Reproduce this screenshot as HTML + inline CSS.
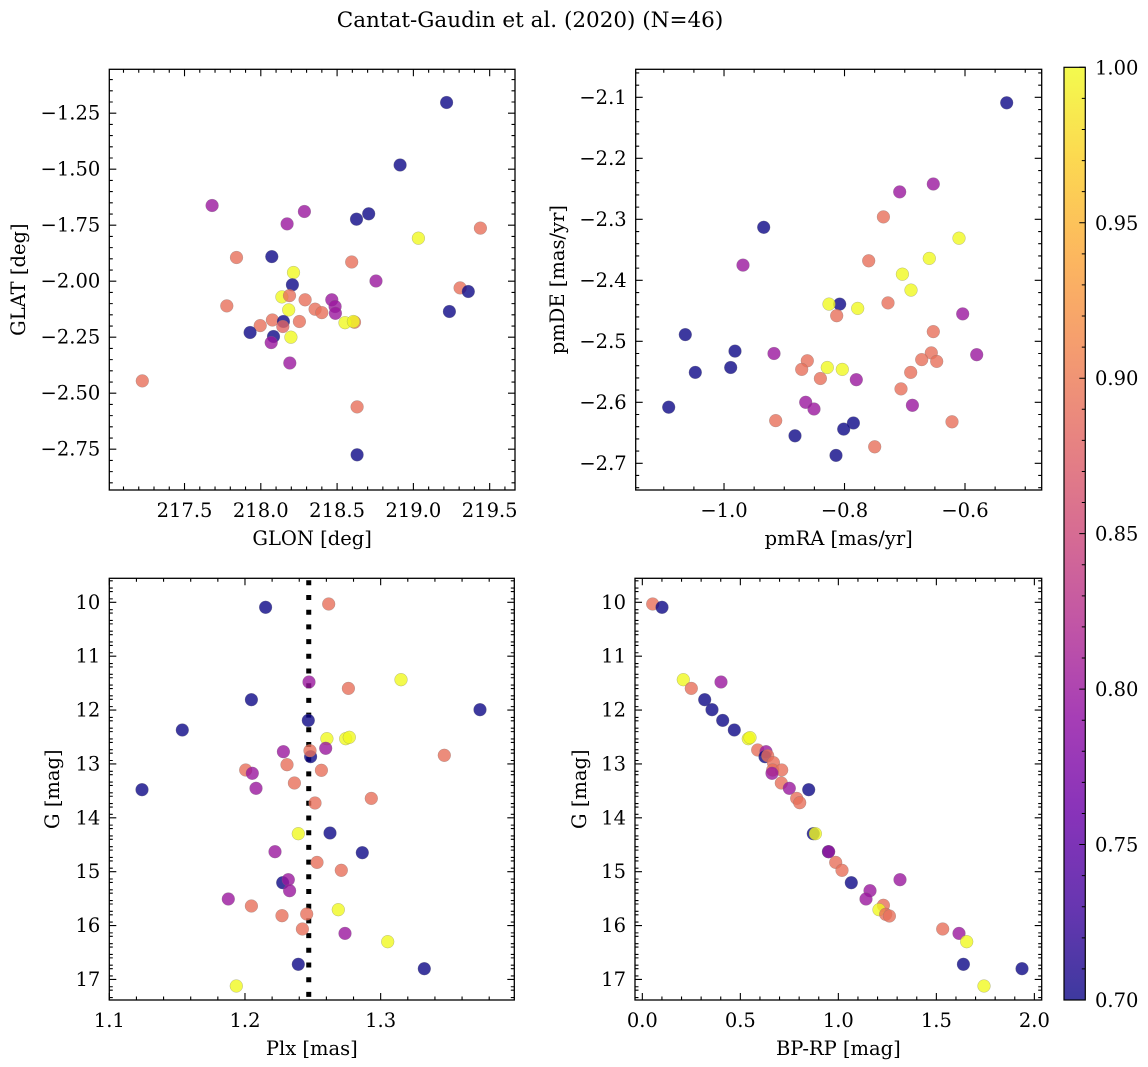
<!DOCTYPE html>
<html><head><meta charset="utf-8">
<style>
html,body{margin:0;padding:0;background:#fff;}
svg{display:block;font-family:"DejaVu Serif","Liberation Serif",serif;}
</style></head>
<body>
<svg id="chart" width="1148" height="1067" viewBox="0 0 1148 1067" xmlns="http://www.w3.org/2000/svg">
<defs>
<linearGradient id="cbgrad" x1="0" y1="1" x2="0" y2="0">
<stop offset="0" stop-color="#0d0887"/><stop offset="0.1" stop-color="#41049d"/><stop offset="0.2" stop-color="#6a00a8"/><stop offset="0.3" stop-color="#8f0da4"/><stop offset="0.4" stop-color="#b12a90"/><stop offset="0.5" stop-color="#cc4778"/><stop offset="0.6" stop-color="#e16462"/><stop offset="0.7" stop-color="#f2844b"/><stop offset="0.8" stop-color="#fca636"/><stop offset="0.9" stop-color="#fcce25"/><stop offset="1" stop-color="#f0f921"/>
</linearGradient>
</defs>
<text x="530" y="27" font-size="21.5" text-anchor="middle">Cantat-Gaudin et al. (2020) (N=46)</text>
</svg>
<script>
// ---- Panel 1: GLON vs GLAT ----
const p1Glon=[219.218,218.913,217.681,218.286,218.172,218.627,218.707,219.439,219.033,218.072,217.841,218.596,218.214,218.207,218.755,219.306,219.360,219.236,217.777,218.138,218.188,218.290,218.356,218.400,218.465,218.487,218.489,218.183,217.996,218.076,218.148,218.144,218.253,218.614,218.552,218.607,217.930,218.083,218.068,218.197,218.190,217.223,218.631,218.631];
const p1Glat=[-1.202,-1.481,-1.662,-1.689,-1.744,-1.723,-1.699,-1.763,-1.808,-1.890,-1.894,-1.914,-1.961,-2.016,-1.999,-2.030,-2.046,-2.135,-2.110,-2.070,-2.064,-2.083,-2.125,-2.140,-2.083,-2.113,-2.143,-2.128,-2.198,-2.173,-2.180,-2.202,-2.180,-2.183,-2.185,-2.180,-2.229,-2.247,-2.274,-2.250,-2.365,-2.445,-2.561,-2.775];
const p1Prob=[0.70,0.70,0.80,0.80,0.80,0.70,0.70,0.89,1.0,0.70,0.89,0.89,1.0,0.70,0.80,0.89,0.70,0.70,0.89,1.0,0.89,0.89,0.89,0.89,0.80,0.80,0.80,1.0,0.89,0.89,0.70,0.88,0.89,0.89,1.0,1.0,0.70,0.70,0.80,1.0,0.80,0.89,0.89,0.70];
const p1XTicks=[217.5,218.0,218.5,219.0,219.5];
const p1YTicks=[-1.25,-1.5,-1.75,-2.0,-2.25,-2.5,-2.75];
// ---- Panel 2: pmRA vs pmDE ----
const p2PmRA=[-0.5308,-0.6526,-0.7084,-0.7355,-0.9342,-0.6100,-0.7599,-0.6592,-0.9685,-0.7040,-0.6896,-0.7278,-0.8080,-0.8257,-0.7781,-0.8130,-0.6039,-1.0642,-0.6526,-0.9817,-0.9170,-0.6559,-0.5806,-0.6719,-0.6470,-0.8617,-0.8711,-0.8285,-0.8036,-1.0476,-0.9889,-0.6902,-0.8401,-0.7804,-0.7062,-1.0918,-0.8645,-0.8506,-0.6874,-0.9142,-0.6216,-0.7853,-0.8014,-0.8822,-0.7499,-0.8141];
const p2PmDE=[-2.109,-2.242,-2.255,-2.296,-2.313,-2.331,-2.368,-2.364,-2.375,-2.390,-2.416,-2.437,-2.439,-2.439,-2.446,-2.458,-2.455,-2.489,-2.484,-2.516,-2.520,-2.519,-2.522,-2.530,-2.533,-2.532,-2.546,-2.543,-2.546,-2.551,-2.543,-2.551,-2.561,-2.563,-2.578,-2.608,-2.600,-2.611,-2.605,-2.630,-2.632,-2.634,-2.644,-2.655,-2.673,-2.687];
const p2Prob=[0.70,0.80,0.80,0.89,0.70,1.0,0.89,1.0,0.80,1.0,1.0,0.89,0.70,1.0,1.0,0.89,0.80,0.70,0.89,0.70,0.80,0.89,0.80,0.89,0.89,0.89,0.89,1.0,1.0,0.70,0.70,0.89,0.89,0.80,0.89,0.70,0.80,0.80,0.80,0.89,0.89,0.70,0.70,0.70,0.89,0.70];
const p2XTicks=[-1.0,-0.8,-0.6];
const p2YTicks=[-2.1,-2.2,-2.3,-2.4,-2.5,-2.6,-2.7];
// ---- Panel 3: Plx vs G ----
const p3Plx=[1.2152,1.2617,1.3150,1.2472,1.2762,1.2047,1.3732,1.2467,1.1538,1.2604,1.2742,1.2769,1.2283,1.2595,1.2484,1.2479,1.3469,1.2310,1.2005,1.2054,1.2563,1.2364,1.2081,1.1241,1.2931,1.2516,1.2393,1.2627,1.2221,1.2865,1.2531,1.2710,1.2278,1.2319,1.2329,1.1877,1.2047,1.2688,1.2273,1.2455,1.2423,1.2737,1.3052,1.2393,1.3322,1.1936];
const p3G=[10.093,10.031,11.436,11.479,11.597,11.807,11.993,12.191,12.370,12.531,12.531,12.506,12.772,12.710,12.865,12.754,12.840,13.014,13.113,13.174,13.119,13.354,13.453,13.478,13.639,13.725,14.295,14.282,14.629,14.647,14.827,14.975,15.204,15.149,15.353,15.507,15.637,15.705,15.817,15.786,16.064,16.145,16.300,16.720,16.801,17.123];
const p3Prob=[0.70,0.89,1.0,0.80,0.89,0.70,0.70,0.70,0.70,1.0,1.0,1.0,0.80,0.80,0.70,0.89,0.89,0.89,0.89,0.80,0.89,0.89,0.80,0.70,0.89,0.89,1.0,0.70,0.80,0.70,0.89,0.89,0.70,0.80,0.80,0.80,0.89,1.0,0.89,0.89,0.89,0.80,1.0,0.70,0.70,1.0];
const p3MeanPlx=1.247;
const p3XTicks=[1.1,1.2,1.3];
const p3YTicks=[10,11,12,13,14,15,16,17];
// ---- Panel 4: BP-RP vs G ----
const p4Color=[0.0527,0.1003,0.2092,0.4014,0.2500,0.3180,0.3554,0.4099,0.4694,0.5408,0.5493,0.5884,0.6310,0.6259,0.6395,0.6684,0.6650,0.7109,0.6616,0.7092,0.7500,0.8486,0.7874,0.8027,0.8724,0.8827,0.949,0.9507,0.9864,1.0187,1.0663,1.3146,1.1616,1.1412,1.2296,1.2075,1.2415,1.2602,1.5323,1.6156,1.6548,1.6378,1.9371,1.7432];
const p4G=[10.031,10.093,11.436,11.479,11.597,11.807,11.993,12.191,12.370,12.531,12.512,12.741,12.772,12.865,12.847,12.976,13.113,13.113,13.174,13.354,13.453,13.478,13.639,13.719,14.295,14.295,14.629,14.629,14.827,14.975,15.204,15.149,15.353,15.507,15.625,15.705,15.792,15.823,16.064,16.145,16.300,16.720,16.801,17.123];
const p4Prob=[0.89,0.70,1.0,0.80,0.89,0.70,0.70,0.70,0.70,1.0,1.0,0.89,0.80,0.70,0.89,0.89,0.89,0.89,0.80,0.89,0.80,0.70,0.89,0.89,0.70,1.0,0.70,0.80,0.89,0.89,0.70,0.80,0.80,0.80,0.89,1.0,0.89,0.89,0.89,0.80,1.0,0.70,0.70,1.0];
const p4XTicks=[0.0,0.5,1.0,1.5,2.0];
const p4YTicks=[10,11,12,13,14,15,16,17];
// ---- Colorbar ----
const cbTicks=[0.70,0.75,0.80,0.85,0.90,0.95,1.00];
const cbMin=0.70, cbMax=1.00;

const NS="http://www.w3.org/2000/svg";
const svg=document.getElementById('chart');
const FS=19.5;
const stops=[[13,8,135],[65,4,157],[106,0,168],[143,13,164],[177,42,144],[204,71,120],[225,100,98],[242,132,75],[252,166,54],[252,206,37],[240,249,33]];
function plasma(t){t=Math.max(0,Math.min(1,t));const f=t*10;const i=Math.min(9,Math.floor(f));const r=f-i;const a=stops[i],b=stops[i+1];
 return 'rgb('+[0,1,2].map(k=>Math.round(a[k]+(b[k]-a[k])*r)).join(',')+')';}
function el(tag,attrs,parent){const e=document.createElementNS(NS,tag);for(const k in attrs)e.setAttribute(k,attrs[k]);(parent||svg).appendChild(e);return e;}
function fmt(v,d){const s=Math.abs(v).toFixed(d);return (v<0?'\u2212':'')+s;}

function panel(o){
 const g=el('g',{});
 
 
 const sx=v=>o.x0+(v-o.xmin)/(o.xmax-o.xmin)*(o.x1-o.x0);
 const sy=v=>o.y1-(v-o.ymin)/(o.ymax-o.ymin)*(o.y1-o.y0);
 if(o.vline!==undefined){
  const l=el('line',{x1:sx(o.vline),x2:sx(o.vline),y1:o.y0+2,y2:o.y1,stroke:'#000','stroke-width':5,'stroke-dasharray':'5 9.7'},g);
  
  
 }
 const pts=el('g',{},g);
 
 
 for(let i=0;i<o.xs.length;i++){
  const c=el('circle',{cx:sx(o.xs[i]).toFixed(1),cy:sy(o.ys[i]).toFixed(1),r:6.4,fill:plasma((o.c[i]-cbMin)/(cbMax-cbMin)),'fill-opacity':0.8,stroke:'#777','stroke-opacity':0.5,'stroke-width':0.5},pts);
  
  
 }
 const fr=el('rect',{x:o.x0,y:o.y0,width:o.x1-o.x0,height:o.y1-o.y0,fill:'none',stroke:'#000','stroke-width':1.3},g);
 
 
 const t=[];
 for(let v=Math.ceil(o.xmin/o.xminor-1e-6)*o.xminor;v<=o.xmax+1e-9;v+=o.xminor){const x=sx(v);t.push(`M${x},${o.y1}v-3.5M${x},${o.y0}v3.5`);}
 for(let v=Math.ceil(o.ymin/o.yminor-1e-6)*o.yminor;v<=o.ymax+1e-9;v+=o.yminor){const y=sy(v);t.push(`M${o.x0},${y}h3.5M${o.x1},${y}h-3.5`);}
 for(const v of o.xt){const x=sx(v);t.push(`M${x},${o.y1}v-7M${x},${o.y0}v7`);}
 for(const v of o.yt){const y=sy(v);t.push(`M${o.x0},${y}h7M${o.x1},${y}h-7`);}
 const tk=el('path',{d:t.join(''),stroke:'#000','stroke-width':1.1,fill:'none'},g);
 
 
 for(const v of o.xt){const tx=el('text',{x:sx(v),y:o.y1+27,'font-size':FS,'text-anchor':'middle'},g);tx.textContent=fmt(v,o.xd);
  
  }
 for(const v of o.yt){const tx=el('text',{x:o.x0-9,y:sy(v)+6.5,'font-size':FS,'text-anchor':'end'},g);tx.textContent=fmt(v,o.yd);
  
  }
 const xl=el('text',{x:(o.x0+o.x1)/2,y:o.y1+55,'font-size':FS,'text-anchor':'middle'},g);xl.textContent=o.xlabel;
 
 
 const yl=el('text',{x:0,y:0,'font-size':FS,'text-anchor':'middle',transform:`translate(${o.ylx},${(o.y0+o.y1)/2}) rotate(-90)`},g);yl.textContent=o.ylabel;
 
 
}

panel({name:'glon-glat-panel',x0:109.3,x1:515,y0:69.3,y1:490,xmin:217.007,xmax:219.666,ymin:-2.932,ymax:-1.054,xs:p1Glon,ys:p1Glat,c:p1Prob,xt:p1XTicks,yt:p1YTicks,xminor:0.1,yminor:0.05,xd:1,yd:2,xlabel:'GLON [deg]',ylabel:'GLAT [deg]',ylx:25});
panel({name:'proper-motion-panel',x0:635.7,x1:1041.7,y0:69.3,y1:490,xmin:-1.1466,xmax:-0.4727,ymin:-2.7438,ymax:-2.054,xs:p2PmRA,ys:p2PmDE,c:p2Prob,xt:p2XTicks,yt:p2YTicks,xminor:0.05,yminor:0.02,xd:1,yd:1,xlabel:'pmRA [mas/yr]',ylabel:'pmDE [mas/yr]',ylx:564});
panel({name:'parallax-magnitude-panel',x0:109.3,x1:514.3,y0:578.3,y1:1000,xmin:1.1,xmax:1.3985,ymin:9.554,ymax:17.382,xs:p3Plx,ys:p3G.map(v=>9.554+17.382-v),c:p3Prob,xt:p3XTicks,yt:[],xminor:0.02,yminor:0.2,xd:1,yd:0,xlabel:'Plx [mas]',ylabel:'G [mag]',ylx:59,vline:p3MeanPlx});
panel({name:'color-magnitude-panel',x0:635,x1:1041.7,y0:578.3,y1:1000,xmin:-0.0374,xmax:2.0374,ymin:9.554,ymax:17.382,xs:p4Color,ys:p4G.map(v=>9.554+17.382-v),c:p4Prob,xt:p4XTicks,yt:[],xminor:0.1,yminor:0.2,xd:1,yd:0,xlabel:'BP-RP [mag]',ylabel:'G [mag]',ylx:586});

function gTicks(x0,x1,name){
 const y0=578.3,y1=1000,gmin=9.554,gmax=17.382;
 const sy=v=>y0+(v-gmin)/(gmax-gmin)*(y1-y0);
 const g=el('g',{});
 
 
 const t=[];
 for(let v=9.6;v<=17.38;v+=0.2){const y=sy(v);t.push(`M${x0},${y}h3.5M${x1},${y}h-3.5`);}
 for(const v of p3YTicks){const y=sy(v);t.push(`M${x0},${y}h7M${x1},${y}h-7`);
  const tx=el('text',{x:x0-9,y:y+6.5,'font-size':FS,'text-anchor':'end'},g);tx.textContent=String(v);
  
  }
 el('path',{d:t.join(''),stroke:'#000','stroke-width':1.1,fill:'none'},g);
}
gTicks(109.3,514.3,'g-axis-ticks-left');
gTicks(635,1041.7,'g-axis-ticks-right');

const cb=el('g',{});


const cbx0=1064,cbx1=1085.3,cby0=67.3,cby1=1000;
el('rect',{x:cbx0,y:cby0,width:cbx1-cbx0,height:cby1-cby0,fill:'url(#cbgrad)','fill-opacity':0.8},cb);
el('rect',{x:cbx0,y:cby0,width:cbx1-cbx0,height:cby1-cby0,fill:'none',stroke:'#000','stroke-width':1.2},cb);
const csy=v=>cby1-(v-cbMin)/(cbMax-cbMin)*(cby1-cby0);
const ct=[];
for(let v=0.70;v<=1.0001;v+=0.01){ct.push(`M${cbx1},${csy(v)}h-3.5`);}
for(const v of cbTicks){ct.push(`M${cbx1},${csy(v)}h-6`);
 const tx=el('text',{x:1095,y:csy(v)+7,'font-size':FS},cb);tx.textContent=v.toFixed(2);
 
 }
el('path',{d:ct.join(''),stroke:'#000','stroke-width':1,fill:'none'},cb);
</script>
</body></html>
